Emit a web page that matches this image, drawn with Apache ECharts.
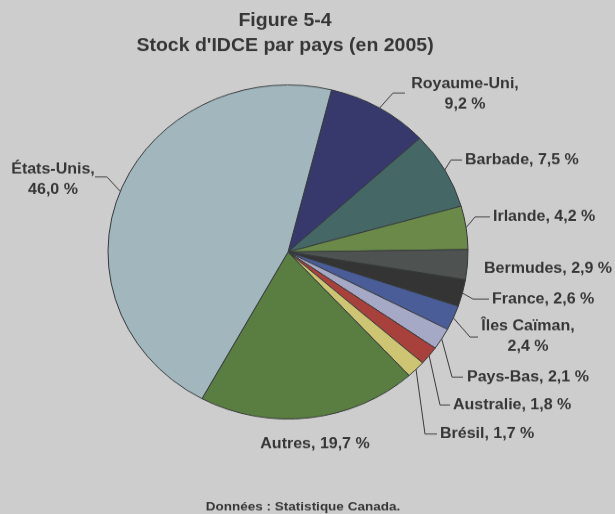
<!DOCTYPE html>
<html>
<head>
<meta charset="utf-8">
<script src="https://cdn.jsdelivr.net/npm/echarts@6/dist/echarts.min.js"></script>
<style>
  html, body { margin: 0; padding: 0; width: 615px; height: 514px; overflow: hidden; background: #cdcdcd; }
  /* the printed figure is slightly compressed vertically */
  #chart { width: 615px; height: 554px; transform: scaleY(0.928); transform-origin: 0 0; }
</style>
</head>
<body>
<div id="chart"></div>
<script>
// Stock of Canadian direct investment abroad by country, 2005 (% of total)
const countries = ['Royaume-Uni', 'Barbade', 'Irlande', 'Bermudes', 'France', 'Îles Caïman',
                   'Pays-Bas', 'Australie', 'Brésil', 'Autres', 'États-Unis'];
const shares = [9.2, 7.5, 4.2, 2.9, 2.6, 2.4, 2.1, 1.8, 1.7, 19.7, 46.0];

const titleLines = ['Figure 5-4', "Stock d'IDCE par pays (en 2005)"];
const sourceNote = 'Données : Statistique Canada.';

const sliceColors = ['#37386b', '#456866', '#6b8a4a', '#4e5251', '#343434', '#4a5d98',
                     '#a6a9c6', '#a8413b', '#cdc474', '#5a7d41', '#a2b6bd'];

// label placement: anchor, alignment, line break, leader elbow/end (null = no leader)
const labelPlacement = [
  { x: 465, y: 101.8, align: 'center', wrap: true,  elbow: [393, 100.2], end: [405, 100.2] },
  { x: 465, y: 172.4, align: 'left',   wrap: false, elbow: [451, 172.4], end: [462, 172.4] },
  { x: 493, y: 233.8, align: 'left',   wrap: false, elbow: [475, 233.8], end: [490, 233.8] },
  { x: 484, y: 289.9, align: 'left',   wrap: false, elbow: null, end: null },
  { x: 492, y: 322.2, align: 'left',   wrap: false, elbow: [473, 322.2], end: [489, 322.2] },
  { x: 528, y: 362.6, align: 'center', wrap: true,  elbow: [470, 363.1], end: [478, 363.1] },
  { x: 467, y: 406.3, align: 'left',   wrap: false, elbow: [452, 406.3], end: [463, 406.3] },
  { x: 453, y: 436.4, align: 'left',   wrap: false, elbow: [440, 436.4], end: [450, 436.4] },
  { x: 440, y: 467.7, align: 'left',   wrap: false, elbow: [425, 467.7], end: [437, 467.7] },
  { x: 315, y: 478.4, align: 'center', wrap: false, elbow: null, end: null },
  { x: 53,  y: 194.0, align: 'center', wrap: true,  elbow: [107, 190.7], end: [95, 190.7] }
];

const FONT = '"Liberation Sans", Arial, Helvetica, sans-serif';
const TEXT = '#363636';

const chart = echarts.init(document.getElementById('chart'), null, { renderer: 'canvas' });

const pieData = countries.map((name, i) => ({
  name: name,
  value: shares[i],
  itemStyle: { color: sliceColors[i] },
  labelLine: { show: !!labelPlacement[i].elbow }
}));

chart.setOption({
  backgroundColor: 'transparent',
  animation: false,
  title: [
    {
      text: titleLines.join('\n'),
      left: 285, top: 9, padding: 0,
      textAlign: 'center',
      textStyle: { fontFamily: FONT, fontWeight: 'bold', fontSize: 19.5, lineHeight: 27, color: TEXT }
    },
    {
      text: sourceNote,
      left: 303, top: 538, padding: 0,
      textAlign: 'center',
      textStyle: { fontFamily: FONT, fontWeight: 'bold', fontSize: 13.5, lineHeight: 16, color: TEXT }
    }
  ],
  series: [{
    type: 'pie',
    silent: true,
    center: [288, 271.5],
    radius: 180,
    startAngle: 76,
    clockwise: true,
    avoidLabelOverlap: false,
    itemStyle: { borderColor: '#34393a', borderWidth: 1 },
    label: {
      show: true,
      position: 'outside',
      fontFamily: FONT,
      fontWeight: 'bold',
      fontSize: 16,
      lineHeight: 22,
      color: TEXT,
      formatter: function (p) {
        const pct = p.value.toFixed(1).replace('.', ',') + ' %';
        return p.name + ',' + (labelPlacement[p.dataIndex].wrap ? '\n' : ' ') + pct;
      }
    },
    labelLine: { show: true, length: 10, length2: 10, lineStyle: { color: '#3a3a3a', width: 1 } },
    labelLayout: function (p) {
      const L = labelPlacement[p.dataIndex];
      const res = { x: L.x, y: L.y, align: L.align, verticalAlign: 'middle' };
      if (L.elbow && p.labelLinePoints) {
        res.labelLinePoints = [p.labelLinePoints[0], L.elbow, L.end];
      }
      return res;
    },
    data: pieData
  }]
});
</script>
</body>
</html>
